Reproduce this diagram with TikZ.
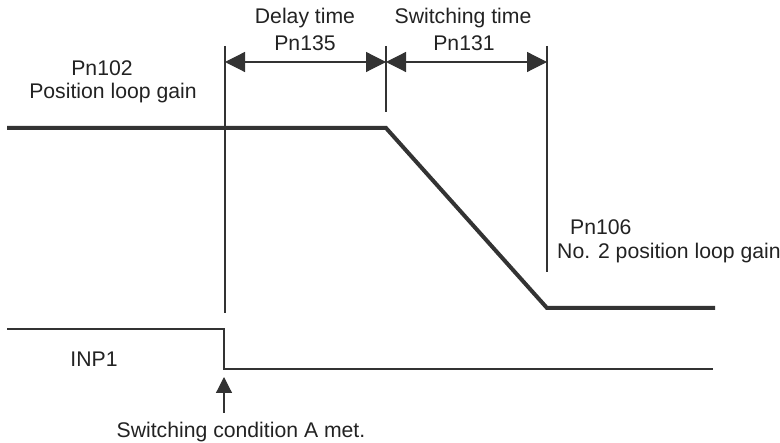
\documentclass[tikz,border=0pt]{standalone}
\usepackage{fontspec}
\setmainfont{Liberation Sans}
\usetikzlibrary{arrows.meta}
\definecolor{ink}{HTML}{333333}
\definecolor{txt}{HTML}{222222}
\tikzset{
  thinline/.style={draw=ink, line width=1.2pt},
  thickline/.style={draw=ink, line width=4pt, line join=miter},
  dimarrow/.style={thinline, {Triangle[length=20pt,width=20pt]}-{Triangle[length=20pt,width=20pt]}},
  lbl/.style={text=txt, inner sep=0pt, font=\fontsize{21.2}{25}\selectfont}
}
\begin{document}
\begin{tikzpicture}[x=1pt,y=-1pt]
\useasboundingbox (0,0) rectangle (780,443);
% coordinates
\coordinate (v1t) at (225,46);
\coordinate (v1b) at (225,313);
\coordinate (v2t) at (386,46);
\coordinate (v2b) at (386,112);
\coordinate (v3t) at (547,46);
\coordinate (v3b) at (547,272);
\coordinate (d1) at (225,62);
\coordinate (d2) at (386,62);
\coordinate (d3) at (547,62);
\coordinate (g0) at (7,128);
\coordinate (g1) at (386,128);
\coordinate (g2) at (547,308);
\coordinate (g3) at (715,308);
\coordinate (s0) at (7,329);
\coordinate (s1) at (224,329);
\coordinate (s2) at (224,369);
\coordinate (s3) at (713,369);
\coordinate (atip) at (224,377);
\coordinate (abase) at (224,413);
% vertical guide lines
\draw[thinline] (v1t) -- (v1b);
\draw[thinline] (v2t) -- (v2b);
\draw[thinline] (v3t) -- (v3b);
% dimension arrows
\draw[dimarrow] (d1) -- (d2);
\draw[dimarrow] (d2) -- (d3);
% gain curve
\draw[thickline] (g0) -- (g1) -- (g2) -- (g3);
% INP1 signal
\draw[thinline] (s0) -- (s1) -- (s2) -- (s3);
% switching arrow
\draw[thinline, -{Triangle[length=16pt,width=16pt]}] (abase) -- (atip);
% labels
\node[lbl] (delay) at (305,18) {Delay time};
\node[lbl] (pn135) at (305,43) {Pn135};
\node[lbl] (swt) at (463,18) {Switching time};
\node[lbl] (pn131) at (464,43) {Pn131};
\node[lbl] (pn102) at (102,68) {Pn102};
\node[lbl] (plg) at (113,93) {Position loop gain};
\node[lbl, anchor=west] (pn106) at (570,227) {Pn106};
\node[lbl, anchor=west] (plg2) at (557,253) {No. 2 position loop gain};
\node[lbl] (inp) at (94,359) {INP1};
\node[lbl] (cond) at (241,432) {Switching condition A met.};
\end{tikzpicture}
\end{document}
